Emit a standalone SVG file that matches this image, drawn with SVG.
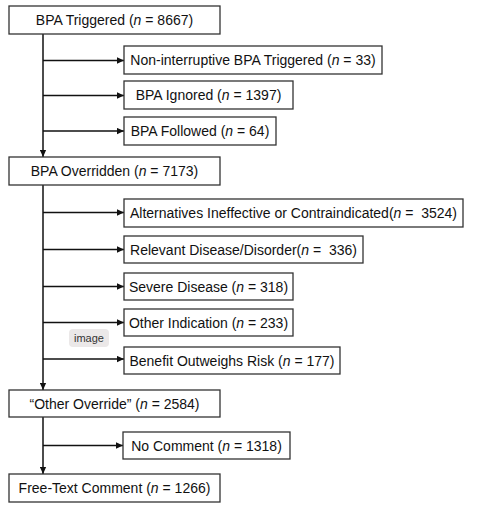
<svg xmlns="http://www.w3.org/2000/svg" width="477" height="513" viewBox="0 0 477 513">
<defs>
<marker id="ah" viewBox="0 0 10 10" refX="10" refY="5" markerWidth="7" markerHeight="7" markerUnits="userSpaceOnUse" orient="auto">
<path d="M0,0.5 L10,5 L0,9.5 z" fill="#111"/>
</marker>
<style>
.box{fill:#fff;stroke:#333;stroke-width:1.3}
.t{font-family:"Liberation Sans",Arial,sans-serif;font-size:14px;fill:#111;text-anchor:middle}
.c{stroke:#111;stroke-width:1.5;fill:none}
.it{font-style:italic}
</style>
</defs>
<rect width="477" height="513" fill="#fff"/>
<g id="connectors">
<path class="c" d="M43,34 V157" marker-end="url(#ah)"/>
<path class="c" d="M43,60.5 H124" marker-end="url(#ah)"/>
<path class="c" d="M43,95.5 H124" marker-end="url(#ah)"/>
<path class="c" d="M43,131 H124" marker-end="url(#ah)"/>
<path class="c" d="M43,185 V390" marker-end="url(#ah)"/>
<path class="c" d="M43,212.5 H124" marker-end="url(#ah)"/>
<path class="c" d="M43,249.5 H124" marker-end="url(#ah)"/>
<path class="c" d="M43,286.5 H124" marker-end="url(#ah)"/>
<path class="c" d="M43,322.5 H124" marker-end="url(#ah)"/>
<path class="c" d="M43,359 H124" marker-end="url(#ah)"/>
<path class="c" d="M43,417 V474" marker-end="url(#ah)"/>
<path class="c" d="M43,445.5 H123" marker-end="url(#ah)"/>
</g>
<g id="n1"><rect class="box" x="9" y="6" width="211" height="28"/><text class="t" x="114.5" y="25">BPA Triggered (<tspan class="it">n</tspan> = 8667)</text></g>
<g id="n2"><rect class="box" x="124" y="46" width="258" height="28"/><text class="t" x="253" y="65">Non-interruptive BPA Triggered (<tspan class="it">n</tspan> = 33)</text></g>
<g id="n3"><rect class="box" x="124" y="81" width="169" height="28"/><text class="t" x="208.5" y="100">BPA Ignored (<tspan class="it">n</tspan> = 1397)</text></g>
<g id="n4"><rect class="box" x="124" y="117" width="152" height="28"/><text class="t" x="200" y="136">BPA Followed (<tspan class="it">n</tspan> = 64)</text></g>
<g id="n5"><rect class="box" x="9" y="157" width="211" height="28"/><text class="t" x="114.5" y="176">BPA Overridden (<tspan class="it">n</tspan> = 7173)</text></g>
<g id="n6"><rect class="box" x="124" y="199" width="339" height="28"/><text class="t" x="293.5" y="218" xml:space="preserve">Alternatives Ineffective or Contraindicated(<tspan class="it">n</tspan> =  3524)</text></g>
<g id="n7"><rect class="box" x="124" y="236" width="239" height="27"/><text class="t" x="243.5" y="254.5" xml:space="preserve">Relevant Disease/Disorder(<tspan class="it">n</tspan> =  336)</text></g>
<g id="n8"><rect class="box" x="124" y="273" width="169" height="27"/><text class="t" x="208.5" y="291.5">Severe Disease (<tspan class="it">n</tspan> = 318)</text></g>
<g id="n9"><rect class="box" x="124" y="309" width="169" height="27"/><text class="t" x="208.5" y="327.5">Other Indication (<tspan class="it">n</tspan> = 233)</text></g>
<g id="n10"><rect class="box" x="124" y="347" width="216" height="27"/><text class="t" x="232" y="365.5">Benefit Outweighs Risk (<tspan class="it">n</tspan> = 177)</text></g>
<g id="n11"><rect class="box" x="9" y="390" width="211" height="27"/><text class="t" x="114.5" y="408.5">“Other Override” (<tspan class="it">n</tspan> = 2584)</text></g>
<g id="n12"><rect class="box" x="123" y="432" width="167" height="27"/><text class="t" x="206.5" y="450.5">No Comment (<tspan class="it">n</tspan> = 1318)</text></g>
<g id="n13"><rect class="box" x="9" y="474" width="211" height="28"/><text class="t" x="114.5" y="493">Free-Text Comment (<tspan class="it">n</tspan> = 1266)</text></g>
<g id="badge"><rect x="69" y="329" width="40" height="18" rx="4" fill="#ebe8e8"/><text x="89" y="342" font-family="'Liberation Sans',Arial,sans-serif" font-size="11px" fill="#333" text-anchor="middle">image</text></g>
</svg>
